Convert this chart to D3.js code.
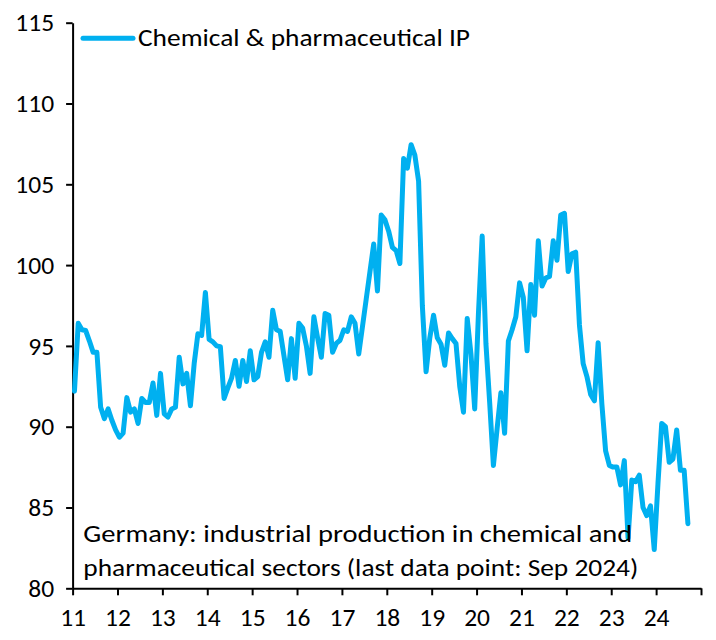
<!DOCTYPE html>
<html>
<head>
<meta charset="utf-8">
<script src="https://cdn.jsdelivr.net/npm/d3@7"></script>
<style>
  html, body { margin: 0; padding: 0; background: #fff; }
  svg { display: block; }
  text { font-family: Carlito, Calibri, Lato, "Open Sans", sans-serif; fill: #000; }
</style>
</head>
<body>
<svg id="chart" width="716" height="640"></svg>
<script>
// ---- Data (monthly, Jan 2011 .. Sep 2024) ----
const yearLabels = ["11","12","13","14","15","16","17","18","19","20","21","22","23","24"];
const yTicks = [80, 85, 90, 95, 100, 105, 110, 115];
const seriesName = "Chemical & pharmaceutical IP";
const noteLines = [
  "Germany: industrial production in chemical and",
  "pharmaceutical sectors (last data point: Sep 2024)"
];
const v2011 = [92.2, 96.4, 96.0, 95.95, 95.3, 94.6, 94.6, 91.2, 90.5, 91.1, 90.4, 89.8];
const v2012 = [89.35, 89.6, 91.8, 90.9, 91.1, 90.2, 91.75, 91.5, 91.5, 92.7, 90.7, 93.3];
const v2013 = [90.8, 90.6, 91.1, 91.2, 94.3, 92.65, 93.3, 91.3, 93.9, 95.75, 95.65, 98.3];
const v2014 = [95.4, 95.25, 95.0, 94.95, 91.75, 92.4, 93.0, 94.1, 92.5, 94.1, 92.8, 94.7];
const v2015 = [92.9, 93.1, 94.6, 95.25, 94.3, 97.2, 96.0, 95.9, 94.4, 92.9, 95.45, 93.0];
const v2016 = [96.4, 96.1, 95.0, 93.3, 96.8, 95.5, 94.3, 97.0, 96.9, 94.6, 95.15, 95.35];
const v2017 = [96.0, 95.9, 96.8, 96.4, 94.5, 96.2, 97.9, 99.6, 101.3, 98.4, 103.1, 102.8];
const v2018 = [102.1, 101.1, 100.9, 100.1, 106.6, 106.0, 107.45, 106.8, 105.2, 97.5, 93.4, 95.5];
const v2019 = [96.9, 95.5, 95.1, 93.8, 95.8, 95.45, 95.15, 92.5, 90.9, 96.7, 94.5, 91.1];
const v2020 = [97.0, 101.8, 95.15, 91.5, 87.6, 89.9, 92.1, 89.6, 95.3, 96.0, 96.8, 98.9];
const v2021 = [98.0, 94.7, 98.8, 96.9, 101.5, 98.7, 99.2, 99.3, 101.5, 100.3, 103.1, 103.2];
const v2022 = [99.6, 100.7, 100.8, 96.3, 93.9, 93.1, 92.0, 91.6, 95.2, 91.4, 88.5, 87.6];
const v2023 = [87.5, 87.5, 86.4, 87.9, 83.1, 86.7, 86.6, 87.0, 85.0, 84.5, 85.1, 82.4];
const v2024 = [86.5, 90.2, 90.0, 87.8, 88.0, 89.8, 87.3, 87.3, 84.0];

const values = [].concat(v2011, v2012, v2013, v2014, v2015, v2016, v2017,
                         v2018, v2019, v2020, v2021, v2022, v2023, v2024);
const data = values.map((v, i) => ({ m: i, v }));

// ---- Layout ----
const svg = d3.select("#chart");
const mLeft = 72.6, mRight = 701, mTop = 22.7, mBottom = 588.3;
const nMonths = yearLabels.length * 12; // 168 months, 2011..2024

const x = d3.scaleLinear().domain([0, nMonths]).range([mLeft, mRight]);
const y = d3.scaleLinear().domain([80, 115]).range([mBottom, mTop]);

const fontSize = 24;
const tickFont = 25.5;

// Y axis
const yAxis = d3.axisLeft(y).tickValues(yTicks).tickSize(6.5).tickSizeOuter(0)
  .tickPadding(12).tickFormat(d3.format("d"));
const gy = svg.append("g").attr("transform", `translate(${mLeft},0)`).call(yAxis);
gy.select(".domain").attr("stroke", "#000").attr("stroke-width", 2);
gy.selectAll(".tick line").attr("stroke", "#000").attr("stroke-width", 2);
gy.selectAll(".tick text").attr("font-size", tickFont).attr("font-family", null).attr("fill", "#000");

// X axis
const xTickVals = d3.range(0, nMonths + 1, 12);
const xAxis = d3.axisBottom(x).tickValues(xTickVals).tickSize(7).tickSizeOuter(0).tickPadding(13)
  .tickFormat((d, i) => i < yearLabels.length ? yearLabels[i] : "");
const gx = svg.append("g").attr("transform", `translate(0,${mBottom})`).call(xAxis);
gx.select(".domain").attr("stroke", "#000").attr("stroke-width", 2);
gx.selectAll(".tick line").attr("stroke", "#000").attr("stroke-width", 2);
gx.selectAll(".tick text").attr("font-size", tickFont).attr("font-family", null).attr("fill", "#000");

// Line
const line = d3.line().x(d => x(d.m + 0.5)).y(d => y(d.v)).curve(d3.curveLinear);
svg.append("path").datum(data)
  .attr("d", line)
  .attr("fill", "none")
  .attr("stroke", "#00B0F0")
  .attr("stroke-width", 5)
  .attr("stroke-linejoin", "round")
  .attr("stroke-linecap", "round");

// Legend
svg.append("line")
  .attr("x1", 83).attr("x2", 133).attr("y1", 38.3).attr("y2", 38.3)
  .attr("stroke", "#00B0F0").attr("stroke-width", 5).attr("stroke-linecap", "round");
const leg = svg.append("text").attr("x", 138).attr("y", 45.7).attr("font-size", fontSize).text(seriesName);

// Note
const note = svg.selectAll(".note").data(noteLines).enter().append("text")
  .attr("class", "note")
  .attr("x", 83.3)
  .attr("y", (d, i) => 541.7 + i * 34.3)
  .attr("font-size", fontSize)
  .text(d => d);

// Fit widths to reference
function fit(sel, w) {
  sel.each(function() {
    const cur = this.getComputedTextLength();
    if (Math.abs(cur - w) > 2) {
      d3.select(this).attr("textLength", w).attr("lengthAdjust", "spacingAndGlyphs");
    }
  });
}
fit(leg, 332);
fit(note.filter((d, i) => i === 0), 549);
fit(note.filter((d, i) => i === 1), 555);
</script>
</body>
</html>
